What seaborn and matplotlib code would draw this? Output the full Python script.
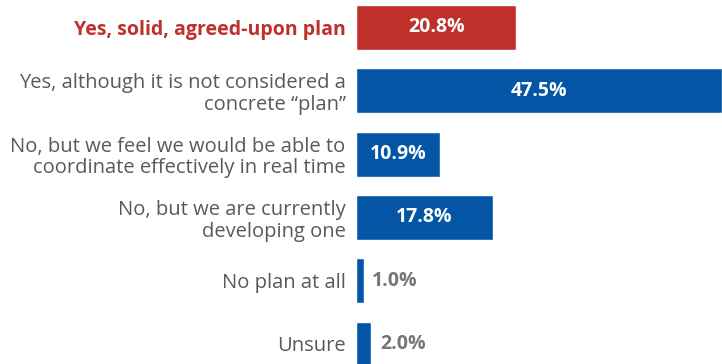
import matplotlib
matplotlib.use("Agg")
import matplotlib.pyplot as plt
import seaborn as sns
import pandas as pd

categories = [
    "Yes, solid, agreed-upon plan",
    "Yes, although it is not considered a\nconcrete \u201cplan\u201d",
    "No, but we feel we would be able to\ncoordinate effectively in real time",
    "No, but we are currently\ndeveloping one",
    "No plan at all",
    "Unsure",
]
values = [20.8, 47.5, 10.9, 17.8, 1.0, 2.0]
bar_colors = ["#C0302B", "#0455A5", "#0455A5", "#0455A5", "#0455A5", "#0455A5"]

df = pd.DataFrame({"category": categories, "value": values})

sns.set_theme(style="white")
plt.rcParams["font.family"] = ["Open Sans", "DejaVu Sans"]

fig = plt.figure(figsize=(7.22, 3.64), dpi=100)
ax = fig.add_axes([356 / 722, 0, 366 / 722, 1])

sns.barplot(data=df, x="value", y="category", hue="category", palette=bar_colors,
            legend=False, width=0.71, saturation=1, ax=ax, orient="h")

ax.set_xlim(0, 47.5)
ax.set_ylim(5.316, -0.434)
ax.set_xlabel("")
ax.set_ylabel("")
ax.set_xticks([])
for s in ax.spines.values():
    s.set_visible(False)

ax.tick_params(axis="y", length=0, pad=7.5)
for i, lab in enumerate(ax.get_yticklabels()):
    lab.set_linespacing(1.12)
    if i == 0:
        lab.set_fontsize(14)
        lab.set_color("#C0302B")
        lab.set_fontweight("bold")
    else:
        lab.set_fontsize(14.5)
        lab.set_color("#595959")

for i, v in enumerate(values):
    txt = f"{v:.1f}%"
    if v >= 5:
        ax.text(v / 2, i, txt, ha="center", va="center", color="white",
                fontsize=14, fontweight="bold")
    else:
        ax.text(v + 1.1, i, txt, ha="left", va="center", color="#767676",
                fontsize=14, fontweight="bold")

fig.savefig("out.png", dpi=100)
